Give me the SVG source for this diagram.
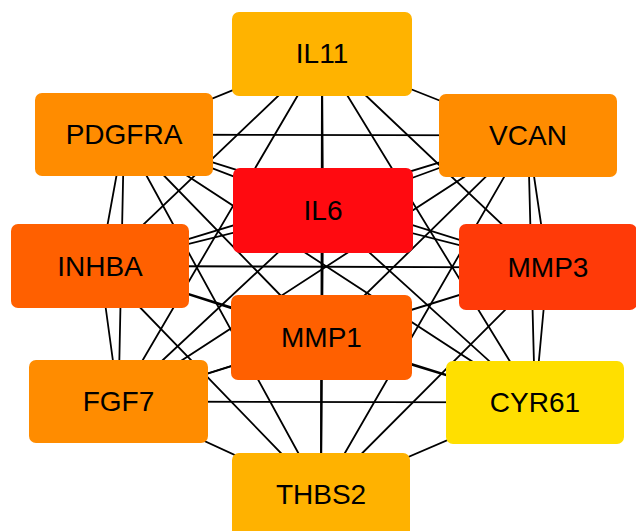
<svg xmlns="http://www.w3.org/2000/svg" width="636" height="531" viewBox="0 0 636 531">
<style>
.e{stroke:#000;stroke-width:1.8;fill:none}
.n{rx:7;ry:7}
.t{font-family:"Liberation Sans",Arial,sans-serif;font-size:28px;fill:#000;text-anchor:middle}
</style>
<rect width="636" height="531" fill="#fff"/>
<g id="edges" class="e">
<path d="M322 54L124 134.5M322 54L528 135.5M322 54L323 210.5M322 54L100 266M322 54L547.5 267.5M322 54L321.5 337.5M322 54L118.5 401.5M322 54L535 402.5M322 54L321 494.5"/>
<path d="M124 134.5L528 135.5M124 134.5L323 210.5M124 134.5L100 266M124 134.5L547.5 267.5M124 134.5L321.5 337.5M124 134.5L118.5 401.5M124 134.5L535 402.5M124 134.5L321 494.5"/>
<path d="M528 135.5L323 210.5M528 135.5L100 266M528 135.5L547.5 267.5M528 135.5L321.5 337.5M528 135.5L118.5 401.5M528 135.5L535 402.5M528 135.5L321 494.5"/>
<path d="M323 210.5L100 266M323 210.5L547.5 267.5M323 210.5L321.5 337.5M323 210.5L118.5 401.5M323 210.5L535 402.5M323 210.5L321 494.5"/>
<path d="M100 266L547.5 267.5M100 266L321.5 337.5M100 266L118.5 401.5M100 266L535 402.5M100 266L321 494.5"/>
<path d="M547.5 267.5L321.5 337.5M547.5 267.5L118.5 401.5M547.5 267.5L535 402.5M547.5 267.5L321 494.5"/>
<path d="M321.5 337.5L118.5 401.5M321.5 337.5L535 402.5M321.5 337.5L321 494.5"/>
<path d="M118.5 401.5L535 402.5M118.5 401.5L321 494.5"/>
<path d="M535 402.5L321 494.5"/>
</g>
<g id="IL11"><rect class="n" x="232" y="12" width="180" height="84" fill="#FFB300"/><text class="t" x="322" y="63">IL11</text></g>
<g id="PDGFRA"><rect class="n" x="35" y="93" width="178" height="83" fill="#FF8C00"/><text class="t" x="124" y="144">PDGFRA</text></g>
<g id="VCAN"><rect class="n" x="439" y="94" width="178" height="83" fill="#FF8C00"/><text class="t" x="528" y="145">VCAN</text></g>
<g id="IL6"><rect class="n" x="233" y="168" width="180" height="85" fill="#FF0A10"/><text class="t" x="323" y="220">IL6</text></g>
<g id="INHBA"><rect class="n" x="11" y="224" width="178" height="84" fill="#FF6000"/><text class="t" x="100" y="276">INHBA</text></g>
<g id="MMP3"><rect class="n" x="459" y="224" width="178" height="86" fill="#FF3A08"/><text class="t" x="548" y="277">MMP3</text></g>
<g id="MMP1"><rect class="n" x="231" y="295" width="181" height="85" fill="#FF6000"/><text class="t" x="321.5" y="347">MMP1</text></g>
<g id="FGF7"><rect class="n" x="29" y="360" width="179" height="83" fill="#FF8C00"/><text class="t" x="118.5" y="411">FGF7</text></g>
<g id="CYR61"><rect class="n" x="446" y="361" width="178" height="83" fill="#FFDF00"/><text class="t" x="535" y="412">CYR61</text></g>
<g id="THBS2"><rect class="n" x="232" y="453" width="178" height="84" fill="#FFB200"/><text class="t" x="321" y="504">THBS2</text></g>
</svg>
